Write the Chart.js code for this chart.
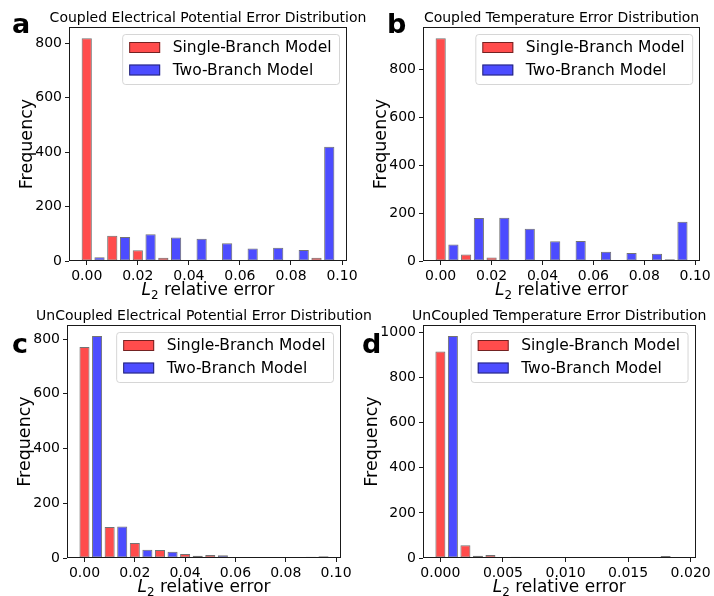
<!DOCTYPE html>
<html>
<head>
<meta charset="utf-8">
<title>L2 relative error distributions</title>
<script src="https://cdn.jsdelivr.net/npm/chart.js@4.4.1/dist/chart.umd.min.js"></script>
<style>
  html, body { margin: 0; padding: 0; background: #ffffff; }
  #figure { position: relative; width: 714px; height: 596px; overflow: hidden; background: #ffffff; }
  #figure canvas { position: absolute; }
  .panel-tag { position: absolute; font: bold 27px "DejaVu Sans", sans-serif; line-height: 27px; color: #000; }
</style>
</head>
<body>
<div id="figure">
  <div class="panel-tag" style="left:12px;top:10px">a</div>
  <div class="panel-tag" style="left:387px;top:10px">b</div>
  <div class="panel-tag" style="left:12px;top:330px">c</div>
  <div class="panel-tag" style="left:362px;top:330px">d</div>
</div>
<script>
// ---- data ----------------------------------------------------------------
const seriesNames = ['Single-Branch Model', 'Two-Branch Model'];

// left edges of the histogram bins (0.01 wide, and 0.002 wide for the last panel)
const binEdgesWide = [0.00, 0.01, 0.02, 0.03, 0.04, 0.05, 0.06, 0.07, 0.08, 0.09];
const binEdgesNarrow = [0.000, 0.002, 0.004, 0.006, 0.008, 0.010, 0.012, 0.014, 0.016, 0.018];

// counts per bin
const coupledPotentialSingle = [818, 93, 39, 12, 4, 2, 2, 0, 0, 12];
const coupledPotentialTwo    = [14, 88, 98, 86, 82, 65, 46, 49, 40, 419];
const coupledTempSingle      = [929, 27, 15, 3, 1, 1, 0, 0, 3, 7];
const coupledTempTwo         = [69, 179, 180, 134, 82, 83, 39, 33, 30, 164];
const uncoupledPotentialSingle = [771, 113, 55, 29, 15, 11, 3, 3, 1, 5];
const uncoupledPotentialTwo    = [811, 115, 30, 23, 8, 10, 3, 2, 0, 6];
const uncoupledTempSingle    = [916, 56, 13, 5, 3, 2, 0, 0, 0, 9];
const uncoupledTempTwo       = [984, 10, 3, 1, 2, 1, 0, 0, 0, 3];

// axis ticks
const xTickValuesWide = [0.00, 0.02, 0.04, 0.06, 0.08, 0.10];
const xTickLabelsWide = ['0.00', '0.02', '0.04', '0.06', '0.08', '0.10'];
const xTickValuesNarrow = [0.000, 0.005, 0.010, 0.015, 0.020];
const xTickLabelsNarrow = ['0.000', '0.005', '0.010', '0.015', '0.020'];
const yTicks800 = [0, 200, 400, 600, 800];
const yTicks1000 = [0, 200, 400, 600, 800, 1000];

const panelTitles = [
  'Coupled Electrical Potential Error Distribution',
  'Coupled Temperature Error Distribution',
  'UnCoupled Electrical Potential Error Distribution',
  'UnCoupled Temperature Error Distribution'
];

// ---- styling -------------------------------------------------------------
const FONT = '"DejaVu Sans", "Liberation Sans", sans-serif';
const RED = 'rgba(255, 0, 0, 0.7)';
const BLUE = 'rgba(0, 0, 255, 0.7)';
const EDGE = 'rgba(0, 0, 0, 0.55)';

// canvas box and plot-area rectangle of every panel, in page pixels
const panels = [
  { title: panelTitles[0], edges: binEdgesWide, single: coupledPotentialSingle, two: coupledPotentialTwo,
    xTicks: xTickValuesWide, xLabels: xTickLabelsWide, yTicks: yTicks800,
    box: { x: 0, y: 0, w: 400, h: 300 }, area: { l: 69, t: 27, r: 347, b: 261 }, yTitleX: 27 },
  { title: panelTitles[1], edges: binEdgesWide, single: coupledTempSingle, two: coupledTempTwo,
    xTicks: xTickValuesWide, xLabels: xTickLabelsWide, yTicks: yTicks800,
    box: { x: 357, y: 0, w: 357, h: 300 }, area: { l: 423, t: 27, r: 701, b: 261 }, yTitleX: 381 },
  { title: panelTitles[2], edges: binEdgesWide, single: uncoupledPotentialSingle, two: uncoupledPotentialTwo,
    xTicks: xTickValuesWide, xLabels: xTickLabelsWide, yTicks: yTicks800,
    box: { x: 0, y: 298, w: 400, h: 298 }, area: { l: 67, t: 325, r: 341, b: 558 }, yTitleX: 25 },
  { title: panelTitles[3], edges: binEdgesNarrow, single: uncoupledTempSingle, two: uncoupledTempTwo,
    xTicks: xTickValuesNarrow, xLabels: xTickLabelsNarrow, yTicks: yTicks1000,
    box: { x: 357, y: 298, w: 357, h: 298 }, area: { l: 423, t: 325, r: 697, b: 558 }, yTitleX: 372 }
];

// frame, title, framed legend and the "L2 relative error" axis label
const panelDecor = {
  id: 'panelDecor',
  afterDatasetsDraw(chart, args, opts) {
    const { ctx, chartArea: a } = chart;
    ctx.save();

    // axes frame
    ctx.strokeStyle = '#1a1a1a';
    ctx.lineWidth = 1;
    ctx.strokeRect(Math.round(a.left) + 0.5, Math.round(a.top) + 0.5,
                   Math.round(a.right - a.left) - 1, Math.round(a.bottom - a.top) - 1);

    // title
    ctx.fillStyle = '#000';
    ctx.font = '14px ' + FONT;
    ctx.textAlign = 'center';
    ctx.textBaseline = 'alphabetic';
    ctx.fillText(opts.title, (a.left + a.right) / 2, a.top - 5);

    // x axis label: italic L with subscript 2, then plain text
    const base = a.bottom + 34;
    const partL = { text: 'L', font: 'oblique 17px ' + FONT, dy: 0 };
    const part2 = { text: '2', font: '11.9px ' + FONT, dy: 3.7 };
    const partRest = { text: ' relative error', font: '17px ' + FONT, dy: 0 };
    const parts = [partL, part2, partRest];
    let total = 0;
    parts.forEach(p => { ctx.font = p.font; p.w = ctx.measureText(p.text).width; total += p.w; });
    let x = (a.left + a.right) / 2 - total / 2;
    ctx.textAlign = 'left';
    parts.forEach(p => { ctx.font = p.font; ctx.fillText(p.text, x, base + p.dy); x += p.w; });

    // legend in the upper right corner of the plot area
    ctx.font = '15.5px ' + FONT;
    const sets = chart.data.datasets;
    const textW = Math.max(...sets.map(d => ctx.measureText(d.label).width));
    const padX = 7, handleW = 31, handleH = 11, gap = 12.5, rowH = 22.5;
    const w = padX + handleW + gap + textW + 7.5;
    const h = 50;
    const x0 = a.right - 8 - w;
    const y0 = a.top + 7;
    ctx.beginPath();
    ctx.roundRect(x0 + 0.5, y0 + 0.5, w, h, 3);
    ctx.fillStyle = 'rgba(255,255,255,0.8)';
    ctx.fill();
    ctx.strokeStyle = 'rgba(204,204,204,0.8)';
    ctx.stroke();
    ctx.textBaseline = 'middle';
    sets.forEach((d, i) => {
      const cy = y0 + 13.5 + i * rowH;
      ctx.fillStyle = d.backgroundColor;
      ctx.fillRect(x0 + padX, cy - handleH / 2, handleW, handleH);
      ctx.strokeStyle = d.borderColor;
      ctx.strokeRect(x0 + padX + 0.5, cy - handleH / 2 + 0.5, handleW - 1, handleH - 1);
      ctx.fillStyle = '#000';
      ctx.fillText(d.label, x0 + padX + handleW + gap, cy + 0.5);
    });
    ctx.restore();
  }
};

const figure = document.getElementById('figure');

panels.forEach(p => {
  const canvas = document.createElement('canvas');
  canvas.width = p.box.w;
  canvas.height = p.box.h;
  canvas.style.left = p.box.x + 'px';
  canvas.style.top = p.box.y + 'px';
  canvas.style.width = p.box.w + 'px';
  canvas.style.height = p.box.h + 'px';
  figure.insertBefore(canvas, figure.firstChild);

  const binW = p.edges[1] - p.edges[0];
  const singlePoints = p.edges.map((e, i) => ({ x: e, y: p.single[i] }));
  const twoPoints = p.edges.map((e, i) => ({ x: e + binW / 2, y: p.two[i] }));

  // autoscale like the plotting default: data extent plus 5 % margins
  const yMax = Math.max(...p.single, ...p.two) * 1.05;
  const lo = p.edges[0] - 0.2 * binW;
  const hi = p.edges[p.edges.length - 1] + 0.7 * binW;
  const margin = 0.05 * (hi - lo);

  const barStyle = {
    borderColor: EDGE, borderWidth: 1, borderSkipped: false,
    grouped: false, categoryPercentage: 1.0, barPercentage: 0.8
  };

  new Chart(canvas, {
    type: 'bar',
    data: {
      datasets: [
        Object.assign({ label: seriesNames[0], data: singlePoints, backgroundColor: RED }, barStyle),
        Object.assign({ label: seriesNames[1], data: twoPoints, backgroundColor: BLUE }, barStyle)
      ]
    },
    options: {
      responsive: false,
      animation: false,
      devicePixelRatio: 1,
      layout: {
        padding: { left: 0, top: p.area.t - p.box.y, right: p.box.x + p.box.w - p.area.r, bottom: 0 }
      },
      plugins: {
        legend: { display: false },
        tooltip: { enabled: false },
        title: { display: false },
        panelDecor: { title: p.title }
      },
      scales: {
        x: {
          type: 'linear',
          min: lo - margin,
          max: hi + margin,
          offset: false,
          afterBuildTicks: s => { s.ticks = p.xTicks.map(v => ({ value: v })); },
          afterFit: s => { s.height = p.box.y + p.box.h - p.area.b; },
          ticks: {
            callback: (v, i) => p.xLabels[i],
            font: { family: FONT, size: 14 }, color: '#000',
            padding: 3, maxRotation: 0, autoSkip: false
          },
          grid: { display: true, drawOnChartArea: false, drawTicks: true, tickLength: 4, tickColor: '#1a1a1a', tickWidth: 1, offset: false },
          border: { display: false }
        },
        y: {
          type: 'linear',
          min: 0,
          max: yMax,
          afterBuildTicks: s => { s.ticks = p.yTicks.map(v => ({ value: v })); },
          afterFit: s => { s.width = p.area.l - p.box.x; },
          ticks: {
            callback: v => String(v),
            font: { family: FONT, size: 14 }, color: '#000', padding: 3
          },
          grid: { display: true, drawOnChartArea: false, drawTicks: true, tickLength: 4, tickColor: '#1a1a1a', tickWidth: 1 },
          border: { display: false },
          title: {
            display: true, text: 'Frequency', color: '#000',
            font: { family: FONT, size: 17.5 },
            padding: { top: p.yTitleX - p.box.x - 10.5, bottom: 0 }
          }
        }
      }
    },
    plugins: [panelDecor]
  });
});
</script>
</body>
</html>
